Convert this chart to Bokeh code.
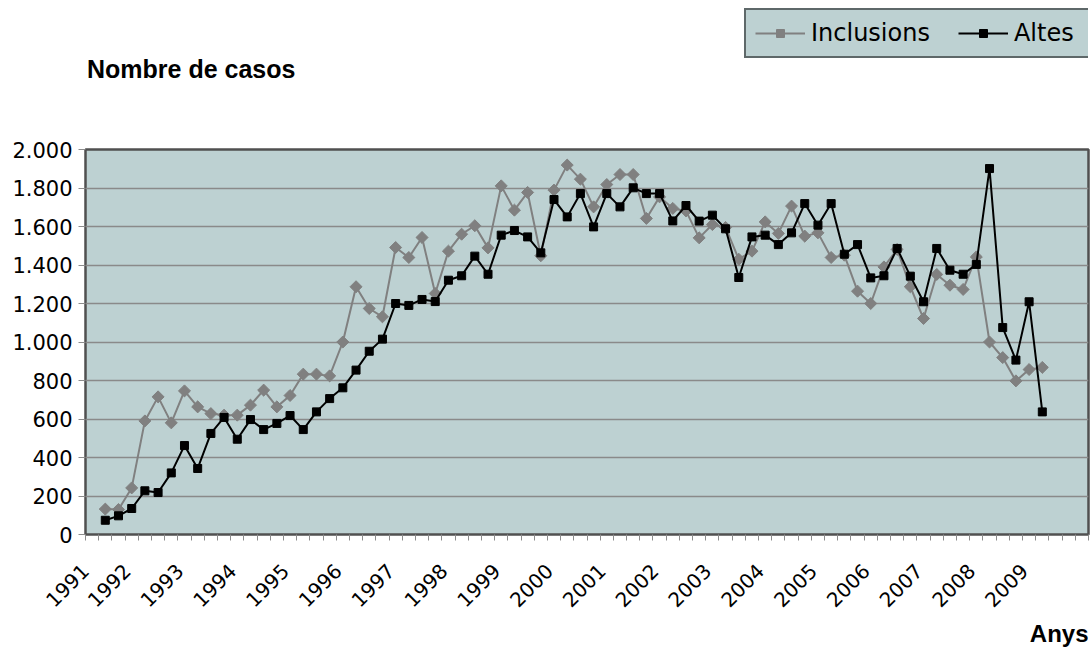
from math import pi
from bokeh.plotting import figure
from bokeh.layouts import column
from bokeh.models import (Range1d, LinearAxis, FixedTicker, Legend, LegendItem, Label,
                          ColumnDataSource)
from bokeh.embed import file_html
from bokeh.resources import INLINE

# ---------------- data ----------------
year_labels = ["1991", "1992", "1993", "1994", "1995", "1996", "1997", "1998", "1999", "2000",
               "2001", "2002", "2003", "2004", "2005", "2006", "2007", "2008", "2009"]

# quarterly values, starting at the 2nd quarter of 1991
inclusions = [132, 130, 242, 590, 715, 580, 746, 663, 628, 620, 620, 672, 750, 663, 722, 833,
              833, 824, 1000, 1287, 1174, 1131, 1491, 1439, 1543, 1252, 1472, 1560, 1604, 1489,
              1811, 1685, 1777, 1448, 1789, 1919, 1846, 1702, 1818, 1870, 1870, 1642, 1754, 1694,
              1681, 1541, 1610, 1595, 1430, 1472, 1624, 1564, 1706, 1550, 1567, 1439, 1451, 1264,
              1200, 1390, 1481, 1287, 1122, 1351, 1295, 1273, 1442, 1000, 919, 798, 857, 868]

altes = [74, 97, 135, 227, 218, 320, 462, 343, 525, 608, 495, 597, 545, 577, 618, 545,
         637, 706, 762, 854, 952, 1015, 1200, 1190, 1221, 1210, 1321, 1344, 1446, 1352,
         1555, 1579, 1546, 1463, 1740, 1650, 1771, 1598, 1771, 1702, 1801, 1771, 1771, 1629,
         1709, 1628, 1659, 1588, 1335, 1546, 1555, 1506, 1567, 1719, 1607, 1719, 1456, 1506,
         1333, 1344, 1486, 1342, 1209, 1486, 1373, 1352, 1403, 1901, 1075, 906, 1209, 637]

y_ticks = [0, 200, 400, 600, 800, 1000, 1200, 1400, 1600, 1800, 2000]
y_tick_labels = ["0", "200", "400", "600", "800", "1.000", "1.200", "1.400", "1.600", "1.800", "2.000"]

# ---------------- layout / style ----------------
W = 1091
TOP_H = 135
FRAME_L, FRAME_R = 85, 3
FRAME_T, FRAME_H, FRAME_B = 14, 385, 86
BOTTOM_H = 647 - TOP_H - (FRAME_T + FRAME_H + FRAME_B)
N_CAT = 4 * len(year_labels)          # quarterly categories on the axis
FIRST_CAT = 1                         # data start at the 2nd category
LAB_SCALE = 100                       # label axis works in 1/100 of a category
LAB_S = 0.84                          # year label anchors sit left of the year's first category
LABEL_DY = 8.6                        # baseline correction for screen-unit labels
BG = "#BDD1D2"
FONT = "DejaVu Sans"
BOLD_FONT = "Liberation Sans"

xs = [FIRST_CAT + i + 0.5 for i in range(len(inclusions))]
src = ColumnDataSource(dict(x=xs, inc=inclusions, alt=altes))

# ---------------- main plot ----------------
p = figure(width=W, height=FRAME_T + FRAME_H + FRAME_B,
           x_range=Range1d(0, N_CAT), y_range=Range1d(0, 2000),
           output_backend="svg", toolbar_location=None,
           min_border_left=FRAME_L, min_border_right=FRAME_R,
           min_border_top=FRAME_T, min_border_bottom=FRAME_B)
p.background_fill_color = BG
p.border_fill_color = "white"
p.outline_line_color = "#505050"
p.outline_line_width = 2.5

ya = p.yaxis[0]
ya.ticker = FixedTicker(ticks=y_ticks, minor_ticks=[])
ya.major_label_overrides = {t: l for t, l in zip(y_ticks, y_tick_labels)}
ya.axis_line_color = None
ya.major_tick_out = 7
ya.major_tick_in = 0
ya.major_tick_line_color = "#8c8c8c"
ya.minor_tick_line_color = None
ya.major_label_standoff = 6
ya.major_label_text_font = FONT
ya.major_label_text_font_size = "21px"
ya.major_label_text_color = "black"

p.ygrid.ticker = FixedTicker(ticks=y_ticks)
p.ygrid.grid_line_color = "#8a8a8a"
p.ygrid.grid_line_width = 1.5
p.xgrid.visible = False

# category boundary tick marks (no labels on this axis)
xa = p.xaxis[0]
xa.ticker = FixedTicker(ticks=[], minor_ticks=list(range(N_CAT + 1)))
xa.axis_line_color = None
xa.major_tick_line_color = None
xa.major_tick_out = 0
xa.minor_tick_out = 6
xa.minor_tick_in = 0
xa.minor_tick_line_color = "#8c8c8c"

# year labels
p.extra_x_ranges = {"lab": Range1d(0, N_CAT * LAB_SCALE)}
lab_ticks = [max(0, round((4 * k - LAB_S) * LAB_SCALE)) for k in range(len(year_labels))]
la = LinearAxis(x_range_name="lab", ticker=FixedTicker(ticks=lab_ticks, minor_ticks=[]))
la.major_label_overrides = {t: l for t, l in zip(lab_ticks, year_labels)}
la.major_label_orientation = pi / 4
la.axis_line_color = None
la.major_tick_line_color = None
la.minor_tick_line_color = None
la.major_tick_out = 0
la.major_label_standoff = 27
la.major_label_text_font = FONT
la.major_label_text_font_size = "20px"
la.major_label_text_color = "black"
p.add_layout(la, "below")

l1 = p.line("x", "inc", source=src, line_color="#808080", line_width=2)
m1 = p.scatter("x", "inc", source=src, marker="square", angle=pi / 4, size=8.5,
               fill_color="#808080", line_color="#808080")
l2 = p.line("x", "alt", source=src, line_color="black", line_width=2)
m2 = p.scatter("x", "alt", source=src, marker="square", size=8,
               fill_color="black", line_color="black")

# ---------------- top strip: legend + title ----------------
top = figure(width=W, height=TOP_H, x_range=Range1d(0, 1), y_range=Range1d(0, 1),
             x_axis_type=None, y_axis_type=None, output_backend="svg", toolbar_location=None,
             min_border=0, min_border_left=FRAME_L, min_border_right=FRAME_R,
             outline_line_color=None)
top.grid.visible = False
key_src = ColumnDataSource(dict(x=[float("nan")], y=[float("nan")]))
k1 = top.line("x", "y", source=key_src, line_color="#808080", line_width=2)
k1m = top.scatter("x", "y", source=key_src, marker="square", angle=pi / 4, size=8.5,
                  fill_color="#808080", line_color="#808080")
k2 = top.line("x", "y", source=key_src, line_color="black", line_width=2)
k2m = top.scatter("x", "y", source=key_src, marker="square", size=8,
                  fill_color="black", line_color="black")
legend = Legend(items=[LegendItem(label="Inclusions", renderers=[k1, k1m]),
                       LegendItem(label="Altes", renderers=[k2, k2m])],
                orientation="horizontal", location=(744 - FRAME_L, TOP_H - 58),
                glyph_width=50, glyph_height=20, label_standoff=6, spacing=28, padding=9,
                label_width=66, margin=0, border_line_color="black", border_line_width=2,
                background_fill_color=BG, background_fill_alpha=1.0,
                label_text_font=FONT, label_text_font_size="24px", label_text_color="black")
top.add_layout(legend, "center")
top.add_layout(Label(x=1.5, y=TOP_H - 77.3 + LABEL_DY, x_units="screen", y_units="screen",
                     text="Nombre de casos",
                     text_font=BOLD_FONT, text_font_style="bold", text_font_size="25px",
                     text_baseline="alphabetic", text_color="black"))

# ---------------- bottom strip: axis title ----------------
bot = figure(width=W, height=BOTTOM_H, x_range=Range1d(0, 1), y_range=Range1d(0, 1),
             x_axis_type=None, y_axis_type=None, output_backend="svg", toolbar_location=None,
             min_border=0, min_border_left=FRAME_L, min_border_right=FRAME_R,
             outline_line_color=None)
bot.grid.visible = False
bot.add_layout(Label(x=W - FRAME_L - FRAME_R, y=5.3 + LABEL_DY, x_units="screen", y_units="screen",
                     text="Anys",
                     text_font=BOLD_FONT, text_font_style="bold", text_font_size="24px",
                     text_align="right", text_baseline="alphabetic", text_color="black"))

open("out.html", "w").write(file_html(column(top, p, bot), INLINE))
